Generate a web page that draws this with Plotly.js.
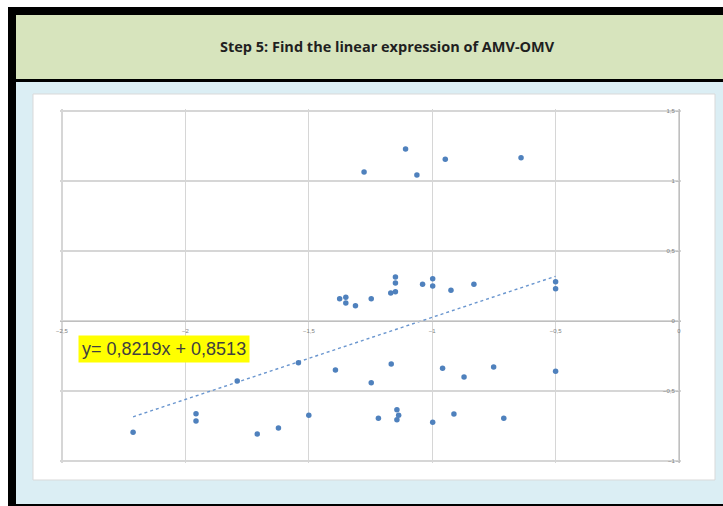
<!DOCTYPE html>
<html><head><meta charset="utf-8">
<script src="https://cdn.plot.ly/plotly-3.0.1.min.js"></script>
<style>html,body{margin:0;padding:0;background:#fff;}#chart{width:723px;height:506px;}</style>
</head><body><div id="chart"></div>
<script>
// Data (AMV on x, OMV on y)
const amvX = [
  -1.276, -1.108, -1.062, -0.947, -0.640,
  -1.149, -1.149, -1.149, -1.168, -1.039, -0.998, -0.998, -0.924, -0.831, -0.500, -0.500,
  -1.247, -1.311, -1.350, -1.350, -1.375,
  -1.790, -1.542, -1.392, -1.957, -1.957, -2.212, -1.709, -1.623, -1.500,
  -1.166, -1.247, -0.958, -0.871, -0.751, -0.500,
  -1.143, -1.136, -1.143, -1.218, -0.998, -0.912, -0.710
];
const omvY = [
  1.064, 1.229, 1.043, 1.155, 1.166,
  0.314, 0.271, 0.209, 0.200, 0.262, 0.302, 0.250, 0.219, 0.262, 0.281, 0.231,
  0.159, 0.109, 0.169, 0.129, 0.159,
  -0.429, -0.298, -0.350, -0.662, -0.714, -0.795, -0.807, -0.764, -0.674,
  -0.307, -0.441, -0.338, -0.400, -0.329, -0.359,
  -0.634, -0.674, -0.705, -0.695, -0.724, -0.664, -0.695
];
const xTickVals = [-2.5, -2, -1.5, -1, -0.5, 0];
const yTickVals = [-1, -0.5, 0, 0.5, 1, 1.5];
const titleText = 'Step 5: Find the linear expression of AMV-OMV';
const equationText = 'y= 0,8219x + 0,8513';

// least squares trendline from the data
const n = amvX.length;
let sx = 0, sy = 0, sxx = 0, sxy = 0;
for (let i = 0; i < n; i++) { sx += amvX[i]; sy += omvY[i]; sxx += amvX[i]*amvX[i]; sxy += amvX[i]*omvY[i]; }
const slope = (n*sxy - sx*sy) / (n*sxx - sx*sx);
const icpt = (sy - slope*sx) / n;
const xmin = Math.min(...amvX), xmax = Math.max(...amvX);
const trendX = [xmin, xmax];
const trendY = trendX.map(v => slope*v + icpt);

// visible plot box 62..679 x 111..461; padded by 2px so edge gridlines are drawn
const PAD = 2;
const L = 62 - PAD, R = 679 + PAD, T = 111 - PAD, B = 461 + PAD;
const pxX = 617 / 2.5, pxY = 350 / 2.5;
const fx = p => (p - L) / (R - L);
const fy = p => (B - p) / (B - T);
function rect(x0, y0, x1, y1, fill, line) {
  return {type: 'rect', xref: 'paper', yref: 'paper', layer: 'below',
    x0: fx(x0), x1: fx(x1), y0: fy(y0), y1: fy(y1),
    fillcolor: fill, line: line || {width: 0}};
}

const traces = [
  {x: trendX, y: trendY, type: 'scatter', mode: 'lines',
   line: {color: '#6a96cf', width: 1.4, dash: 'dot'}, hoverinfo: 'skip'},
  {x: amvX, y: omvY, type: 'scatter', mode: 'markers',
   marker: {color: '#4f81bd', size: 5.5}}
];

const grid = '#d6d6d6';
const layout = {
  width: 723, height: 506,
  margin: {l: L, r: 723 - R, t: T, b: 506 - B, pad: 0},
  paper_bgcolor: '#ffffff', plot_bgcolor: '#ffffff',
  separators: ', ',
  showlegend: false,
  font: {family: 'Liberation Sans, Arial, sans-serif', color: '#808080'},
  xaxis: {
    range: [-2.5 - PAD / pxX, 0 + PAD / pxX], tickvals: xTickVals,
    showgrid: true, gridcolor: grid, gridwidth: 1.2,
    zeroline: false, anchor: 'free', position: fy(321), showline: true, linecolor: '#bfbfbf', linewidth: 1.2,
    ticks: '', tickfont: {size: 6, color: '#808080'}, ticklabelstandoff: 4
  },
  yaxis: {
    range: [-1 - PAD / pxY, 1.5 + PAD / pxY], tickvals: yTickVals,
    anchor: 'free', position: fx(679), side: 'left',
    showgrid: true, gridcolor: grid, gridwidth: 1.2, zeroline: false,
    showline: true, linecolor: '#bfbfbf', linewidth: 1.2,
    ticks: 'outside', ticklen: 3, tickcolor: '#bfbfbf',
    tickfont: {size: 6, color: '#808080'}
  },
  shapes: [
    rect(8, 7, 740, 520, '#000000'),
    rect(16, 15, 740, 79, '#d7e4bd'),
    rect(16, 82, 740, 504, '#dbeef4'),
    rect(33, 94, 715, 480, '#ffffff', {color: '#d9d9d9', width: 1})
  ],
  annotations: [
    {xref: 'paper', yref: 'paper', x: fx(387), y: fy(47), text: titleText, showarrow: false,
     xanchor: 'center', yanchor: 'middle',
     font: {family: 'Open Sans, Liberation Sans, sans-serif', size: 14.5, color: '#1f1f1f', weight: 'bold'}},
    {xref: 'paper', yref: 'paper', x: fx(78), y: fy(349), text: equationText, showarrow: false,
     xanchor: 'left', yanchor: 'middle', bgcolor: '#ffff00', borderpad: 3,
     font: {family: 'Liberation Sans, Arial, sans-serif', size: 18, color: '#404040'}}
  ]
};

Plotly.newPlot('chart', traces, layout, {staticPlot: true, displayModeBar: false});
</script>
</body></html>
